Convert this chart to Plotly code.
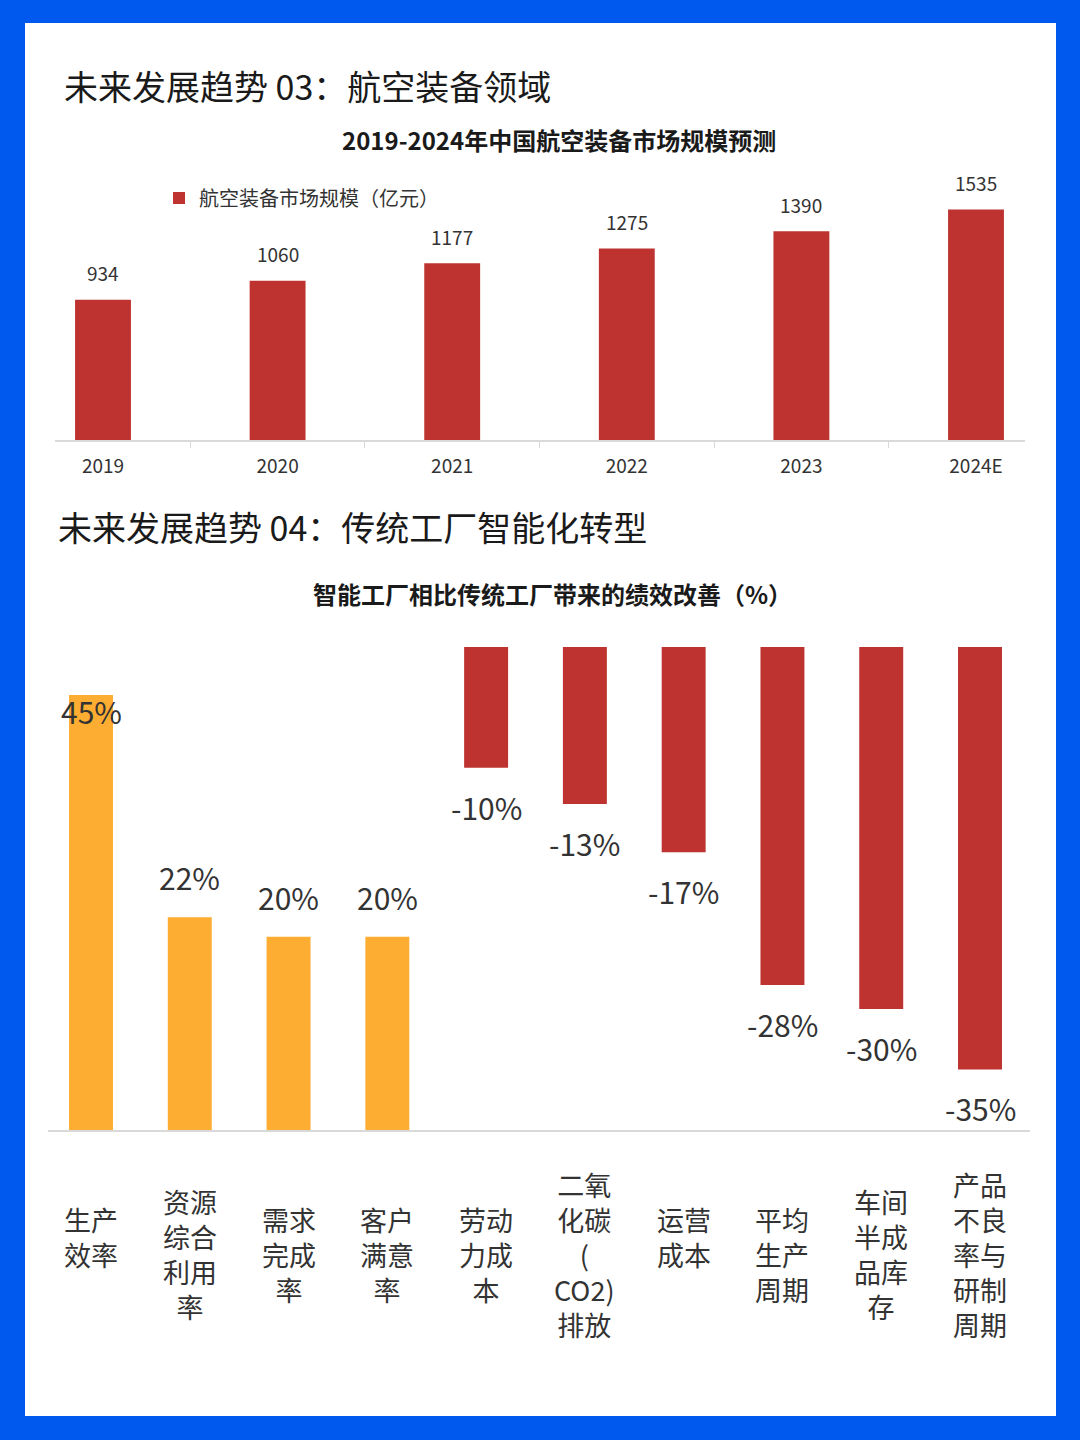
import plotly.graph_objects as go

# chart 1: 2019-2024 market size (亿元)
years = ["2019", "2020", "2021", "2022", "2023", "2024E"]
market_size = [934, 1060, 1177, 1275, 1390, 1535]

# chart 2: smart factory vs traditional factory (%)
perf_labels = [
    "生产<br>效率",
    "资源<br>综合<br>利用<br>率",
    "需求<br>完成<br>率",
    "客户<br>满意<br>率",
    "劳动<br>力成<br>本",
    "二氧<br>化碳<br>(<br>CO2)<br>排放",
    "运营<br>成本",
    "平均<br>生产<br>周期",
    "车间<br>半成<br>品库<br>存",
    "产品<br>不良<br>率与<br>研制<br>周期",
]
perf_values = [45, 22, 20, 20, -10, -13, -17, -28, -30, -35]

RED = "#BE3330"
ORANGE = "#FDAD31"
BLUE = "#0059EE"
TXT = "#333333"
FONT = "Noto Sans CJK SC"
W, H = 1080, 1440


def px_x(p):
    return p / W


def px_y(p):
    return 1 - p / H


fig = go.Figure()

# ---- chart 1
fig.add_bar(
    x=years, y=market_size, name="航空装备市场规模（亿元）",
    marker=dict(color=RED, line=dict(width=0)), width=0.32,
    xaxis="x", yaxis="y",
)
for i, v in enumerate(market_size):
    fig.add_annotation(
        x=i, y=v, xref="x", yref="y", text=str(v), showarrow=False,
        yanchor="middle", yshift=27, font=dict(size=19, color=TXT, family=FONT),
    )

# ---- chart 2
pos = [v if v > 0 else None for v in perf_values]
neg = [v if v < 0 else None for v in perf_values]
fig.add_bar(
    x=perf_labels, y=pos, marker=dict(color=ORANGE, line=dict(width=0)),
    width=0.445, xaxis="x2", yaxis="y2", showlegend=False,
)
fig.add_bar(
    x=perf_labels, y=neg, marker=dict(color=RED, line=dict(width=0)),
    width=0.445, xaxis="x2", yaxis="y3", showlegend=False,
)
top_val = max(perf_values)
for i, (lab, v) in enumerate(zip(perf_labels, perf_values)):
    if v > 0:
        shift = -16 if v == top_val else 40
        fig.add_annotation(
            x=i, y=v, xref="x2", yref="y2", text=f"{v}%", showarrow=False,
            yanchor="middle", yshift=shift, font=dict(size=30, color=TXT, family=FONT),
        )
    else:
        fig.add_annotation(
            x=i, y=v, xref="x2", yref="y3", text=f"{v}%", showarrow=False,
            yanchor="middle", yshift=-39, font=dict(size=30, color=TXT, family=FONT),
        )
    # category labels, at least 3 lines tall so they center like the original
    txt = lab
    while txt.count("<br>") < 2:
        txt += "<br>&nbsp;"
    fig.add_annotation(
        x=i, y=px_y(1254), xref="x2", yref="paper", text=txt, showarrow=False,
        yanchor="middle", align="center", font=dict(size=27, color=TXT, family=FONT),
    )

# ---- titles
fig.add_annotation(
    x=px_x(62), y=px_y(85), xref="paper", yref="paper", xanchor="left", yanchor="middle",
    text="未来发展趋势 03：航空装备领域", showarrow=False,
    font=dict(size=34, color="#1A1A1A", family=FONT),
)
fig.add_annotation(
    x=px_x(559), y=px_y(140), xref="paper", yref="paper", xanchor="center", yanchor="middle",
    text="<b>2019-2024年中国航空装备市场规模预测</b>", showarrow=False,
    font=dict(size=24, color="#1A1A1A", family=FONT),
)
fig.add_annotation(
    x=px_x(56), y=px_y(527), xref="paper", yref="paper", xanchor="left", yanchor="middle",
    text="未来发展趋势 04：传统工厂智能化转型", showarrow=False,
    font=dict(size=34, color="#1A1A1A", family=FONT),
)
fig.add_annotation(
    x=px_x(552), y=px_y(593), xref="paper", yref="paper", xanchor="center", yanchor="middle",
    text="<b>智能工厂相比传统工厂带来的绩效改善（%）</b>", showarrow=False,
    font=dict(size=24, color="#1A1A1A", family=FONT),
)

# white card on blue frame
fig.add_shape(
    type="rect", xref="paper", yref="paper", layer="below",
    x0=px_x(25), x1=px_x(1056), y0=px_y(1416), y1=px_y(23),
    fillcolor="white", line=dict(width=0),
)

n1 = len(years)
step1 = (976 - 103) / (n1 - 1)
n2 = len(perf_labels)
step2 = (980 - 91) / (n2 - 1)

fig.update_layout(
    width=W, height=H,
    margin=dict(l=0, r=0, t=0, b=0),
    paper_bgcolor=BLUE, plot_bgcolor="white",
    barmode="overlay",
    font=dict(family=FONT, color=TXT),
    legend=dict(
        x=px_x(159), y=px_y(198), xanchor="left", yanchor="middle",
        bgcolor="rgba(0,0,0,0)", font=dict(size=20, color=TXT, family=FONT),
    ),
    xaxis=dict(
        type="category",
        domain=[px_x(55), px_x(1025)],
        range=[-(103 - 55) / step1, n1 - 1 + (1025 - 976) / step1],
        showline=True, linecolor="#D9D9D9", linewidth=2,
        ticks="outside", tickson="boundaries", ticklen=6, tickcolor="#D9D9D9",
        tickfont=dict(size=19, color=TXT, family=FONT), ticklabelstandoff=8,
        showgrid=False, fixedrange=True, anchor="y",
    ),
    yaxis=dict(
        domain=[px_y(440), px_y(180)],
        range=[0, (440 - 180) / 0.1502],
        visible=False, showgrid=False, zeroline=False, anchor="x",
    ),
    xaxis2=dict(
        type="category",
        domain=[px_x(48), px_x(1030)],
        range=[-(91 - 48) / step2, n2 - 1 + (1030 - 980) / step2],
        showline=True, linecolor="#D9D9D9", linewidth=2,
        showticklabels=False, ticks="", showgrid=False, anchor="y2",
    ),
    yaxis2=dict(
        domain=[px_y(1130), px_y(647)],
        range=[0, (1130 - 647) / 9.667],
        visible=False, showgrid=False, zeroline=False, anchor="x2",
    ),
    yaxis3=dict(
        overlaying="y2",
        range=[-(1130 - 647) / 12.07, 0],
        visible=False, showgrid=False, zeroline=False, anchor="x2",
    ),
)

fig.write_html(
    "out.html",
    config={"displayModeBar": False},
    post_script="document.body.style.margin='0px';",
)
